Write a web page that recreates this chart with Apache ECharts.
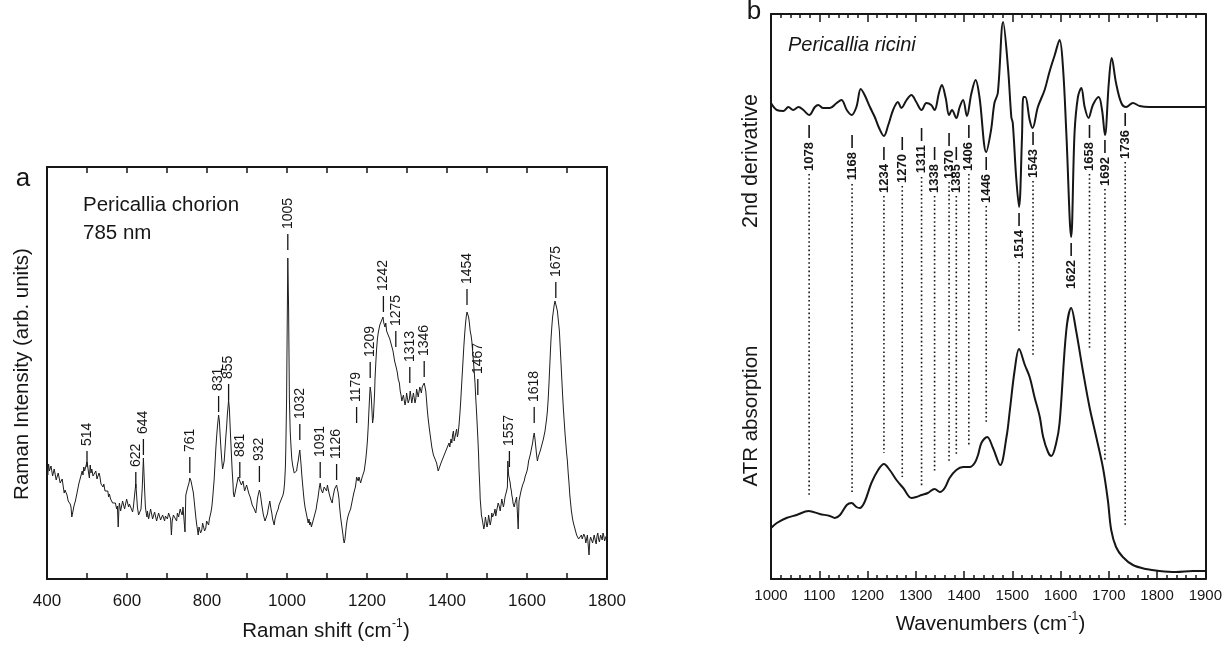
<!DOCTYPE html>
<html><head><meta charset="utf-8">
<script src="https://cdn.jsdelivr.net/npm/echarts@6/dist/echarts.min.js"></script>
<style>html,body{margin:0;padding:0;background:#fff}#c{width:1225px;height:648px}</style>
</head><body><div id="c"></div>
<script>
// ---------- Panel a: Raman spectrum (Raman shift cm-1, intensity arb. units) ----------
const ramanSpectrum = [
[400,109],[402,104],[404,115],[406,108],[408,106],[410,113],[412,112],[414,103],[416,104],[418,110],[420,108],[423,99],[425,101],[428,106],[430,104],[433,96],[435,97],[438,100],[440,94],[443,86],[445,89],[448,90],[450,84],[453,78],[455,80],[458,75],[460,72],[462,62],[464,66],[466,70],[468,74],[471,78],[474,84],[476,88],[478,92],[480,96],[482,99],[484,102],[486,100],[488,108],[490,104],[492,112],[494,108],[496,110],[498,114],[500,117],[502,112],[504,106],[506,101],[508,114],[510,106],[512,110],[515,103],[517,105],[520,102],[522,108],[525,100],[527,101],[530,106],[532,103],[535,95],[537,97],[540,92],[542,95],[545,88],[547,90],[550,86],[552,88],[554,82],[556,85],[559,80],[561,82],[564,76],[566,78],[569,74],[571,76],[574,70],[576,73],[578,52],[580,72],[581,76],[584,68],[586,70],[589,78],[591,77],[594,70],[596,74],[599,80],[601,79],[604,72],[606,75],[609,73],[611,70],[614,67],[616,72],[618,80],[620,88],[622,95],[624,84],[626,72],[629,64],[631,62],[633,66],[635,70],[638,90],[641,121],[644,90],[646,72],[648,66],[650,62],[651,68],[654,60],[656,64],[659,70],[661,68],[664,60],[666,62],[669,67],[671,66],[674,58],[676,60],[679,66],[681,65],[684,59],[686,58],[689,64],[691,66],[694,58],[696,63],[699,65],[701,60],[704,66],[706,67],[709,60],[711,44],[713,58],[716,64],[719,66],[721,62],[724,58],[726,66],[729,62],[731,60],[733,70],[735,67],[738,64],[740,72],[743,74],[745,47],[747,84],[750,86],[752,92],[755,96],[757,101],[760,98],[762,94],[764,90],[766,86],[768,78],[770,70],[772,62],[774,55],[776,50],[778,44],[780,52],[782,52],[784,46],[787,49],[789,56],[792,54],[794,48],[797,51],[799,58],[802,56],[804,54],[806,60],[808,62],[810,67],[812,72],[814,80],[816,90],[818,100],[820,115],[822,130],[824,142],[826,152],[828,160],[829,164],[831,158],[832,150],[834,136],[836,124],[838,114],[839,110],[841,112],[843,118],[845,130],[847,142],[849,152],[851,165],[853,174],[854,179],[856,170],[857,160],[859,142],[861,125],[863,108],[865,95],[866,86],[868,82],[870,86],[872,90],[874,94],[876,98],[878,102],[880,104],[882,98],[884,100],[886,94],[888,93],[890,98],[892,96],[894,88],[896,90],[899,94],[901,92],[903,88],[905,85],[908,82],[910,80],[913,74],[915,76],[918,70],[920,68],[922,66],[924,72],[926,80],[928,84],[931,89],[933,86],[935,80],[937,74],[939,72],[941,64],[943,62],[945,58],[947,56],[949,60],[951,65],[953,70],[955,72],[957,78],[958,76],[960,70],[962,66],[964,60],[966,57],[968,54],[970,60],[972,62],[974,66],[976,64],[978,70],[980,74],[982,76],[984,74],[986,80],[988,82],[990,84],[992,88],[994,96],[996,112],[997,130],[999,180],[1000,230],[1002,321],[1004,270],[1006,180],[1008,148],[1009,140],[1011,126],[1012,120],[1014,114],[1016,110],[1018,106],[1020,104],[1022,106],[1024,108],[1026,114],[1028,118],[1030,124],[1032,129],[1034,120],[1035,115],[1037,104],[1039,95],[1041,86],[1043,78],[1045,72],[1047,68],[1049,64],[1051,62],[1053,56],[1055,60],[1057,54],[1059,57],[1061,52],[1063,55],[1065,58],[1067,60],[1069,64],[1071,66],[1073,70],[1075,76],[1077,80],[1079,86],[1081,92],[1083,96],[1085,90],[1087,92],[1089,86],[1091,88],[1093,92],[1095,94],[1097,90],[1099,88],[1101,94],[1103,92],[1105,86],[1107,85],[1109,80],[1111,78],[1113,76],[1115,82],[1117,86],[1119,90],[1122,92],[1124,94],[1126,90],[1128,86],[1130,80],[1131,74],[1133,66],[1134,62],[1136,56],[1138,50],[1140,44],[1141,40],[1143,36],[1145,40],[1146,44],[1148,52],[1150,58],[1152,62],[1155,66],[1157,64],[1159,70],[1161,74],[1163,78],[1165,82],[1167,86],[1169,88],[1171,92],[1173,98],[1174,102],[1176,100],[1178,98],[1180,102],[1182,104],[1184,96],[1186,98],[1188,102],[1189,100],[1191,104],[1193,108],[1195,114],[1197,120],[1199,128],[1201,138],[1203,152],[1205,170],[1207,186],[1208,192],[1210,186],[1211,180],[1213,164],[1214,156],[1216,162],[1217,170],[1219,186],[1220,200],[1222,216],[1224,230],[1226,240],[1228,246],[1230,250],[1232,254],[1234,252],[1236,258],[1238,256],[1240,262],[1242,256],[1243,258],[1245,252],[1247,256],[1249,248],[1251,250],[1253,244],[1255,246],[1257,240],[1259,238],[1261,234],[1263,232],[1265,228],[1267,226],[1269,218],[1272,220],[1274,210],[1276,206],[1278,200],[1281,196],[1283,188],[1285,184],[1287,178],[1289,176],[1291,184],[1293,182],[1295,174],[1297,178],[1299,186],[1301,184],[1303,176],[1306,180],[1308,188],[1310,186],[1312,176],[1314,178],[1316,186],[1318,184],[1320,176],[1322,180],[1324,190],[1326,188],[1328,182],[1330,184],[1332,192],[1334,190],[1336,186],[1338,192],[1340,194],[1343,196],[1345,194],[1347,188],[1349,178],[1351,168],[1353,160],[1356,150],[1358,144],[1360,138],[1362,132],[1364,128],[1366,124],[1368,122],[1370,120],[1372,118],[1374,116],[1376,114],[1378,108],[1381,110],[1383,106],[1385,116],[1387,114],[1389,120],[1391,118],[1393,124],[1395,122],[1397,126],[1399,130],[1401,132],[1403,130],[1405,136],[1407,132],[1410,140],[1412,136],[1414,144],[1416,148],[1418,138],[1420,140],[1422,146],[1424,150],[1426,142],[1428,146],[1430,154],[1432,164],[1434,176],[1436,190],[1438,204],[1440,218],[1442,232],[1444,244],[1446,254],[1448,262],[1450,267],[1452,266],[1454,262],[1456,256],[1458,248],[1460,244],[1462,238],[1464,228],[1466,218],[1468,208],[1470,196],[1472,180],[1474,166],[1476,150],[1477,142],[1479,124],[1480,110],[1482,92],[1483,80],[1485,70],[1486,64],[1488,60],[1490,58],[1492,50],[1494,54],[1496,62],[1498,60],[1500,52],[1502,56],[1504,64],[1506,62],[1508,54],[1510,58],[1512,66],[1514,62],[1516,60],[1518,66],[1520,70],[1522,63],[1524,68],[1526,70],[1528,76],[1531,72],[1533,68],[1535,74],[1537,80],[1539,78],[1541,72],[1543,76],[1545,82],[1547,84],[1549,88],[1551,92],[1552,118],[1554,104],[1556,100],[1558,96],[1559,92],[1561,88],[1562,84],[1564,80],[1565,76],[1567,74],[1568,72],[1570,76],[1572,78],[1574,82],[1576,84],[1578,50],[1580,78],[1581,80],[1583,84],[1585,88],[1587,90],[1589,94],[1591,96],[1593,98],[1595,102],[1597,104],[1600,108],[1602,112],[1604,118],[1606,120],[1608,124],[1610,128],[1612,132],[1614,136],[1616,142],[1618,146],[1620,140],[1622,132],[1624,124],[1626,118],[1628,122],[1630,124],[1633,128],[1635,130],[1637,134],[1639,136],[1641,140],[1643,142],[1645,148],[1647,154],[1649,160],[1651,168],[1653,180],[1655,196],[1657,214],[1660,240],[1662,252],[1664,262],[1666,268],[1668,274],[1670,278],[1672,280],[1674,276],[1676,268],[1678,260],[1681,248],[1683,232],[1685,216],[1687,200],[1689,184],[1691,170],[1693,158],[1695,146],[1697,136],[1699,126],[1701,118],[1703,106],[1705,96],[1707,84],[1709,76],[1711,68],[1714,60],[1716,56],[1718,54],[1720,50],[1722,48],[1724,44],[1727,45],[1729,40],[1731,42],[1733,38],[1736,44],[1738,40],[1740,38],[1742,45],[1745,42],[1747,36],[1749,36],[1751,44],[1753,42],[1755,24],[1757,38],[1759,42],[1762,44],[1764,36],[1766,40],[1768,44],[1771,38],[1773,35],[1775,43],[1777,46],[1779,40],[1781,37],[1784,44],[1786,42],[1788,39],[1790,46],[1792,43],[1794,38],[1797,42],[1800,44]
];
const ramanPeakLabels = ['514','622','644','761','831','855','881','932','1005','1032','1091','1126','1179','1209','1242','1275','1313','1346','1454','1467','1557','1618','1675'];
const ramanPeakPos    = [500,622,641,757,829,854,882,931,1002,1032,1083,1124,1174,1208,1241,1272,1307,1343,1450,1477,1556,1618,1672];
const ramanPeakBase   = [112,91,124,106,167,179,101,97,329,139,101,99,156,201,267,232,196,202,274,184,112,156,281];

// ---------- Panel b: FTIR (wavenumbers cm-1) ----------
const derivSpectrum = [
[1000,476],[1012,469],[1026,468],[1036,472],[1046,469],[1057,472],[1067,469],[1079,464],[1091,472],[1098,474],[1108,471],[1122,471],[1136,476],[1146,479],[1157,469],[1167,464],[1177,472],[1186,490],[1194,484],[1205,472],[1215,462],[1224,451],[1234,443],[1243,454],[1253,469],[1263,477],[1270,471],[1281,479],[1291,484],[1301,477],[1312,469],[1322,476],[1332,474],[1339,469],[1348,486],[1354,494],[1362,481],[1369,464],[1375,469],[1384,461],[1391,472],[1398,479],[1406,463],[1415,485],[1424,499],[1432,482],[1446,427],[1456,449],[1463,476],[1470,486],[1481,557],[1491,512],[1498,462],[1501,456],[1508,402],[1514,372],[1520,440],[1523,482],[1527,482],[1536,459],[1542,451],[1553,472],[1567,489],[1577,507],[1588,524],[1598,539],[1605,512],[1612,446],[1622,342],[1629,446],[1636,482],[1643,491],[1650,472],[1658,461],[1667,474],[1679,482],[1686,469],[1692,444],[1700,496],[1706,521],[1715,496],[1726,476],[1736,472],[1750,476],[1764,473],[1784,472],[1812,472],[1839,472],[1874,472],[1900,472]
];
const atrSpectrum = [
[1000,51],[1012,56],[1032,61],[1053,64],[1078,68],[1101,65],[1122,63],[1132,61],[1143,64],[1157,74],[1167,76],[1177,72],[1184,71],[1194,77],[1208,96],[1222,109],[1234,115],[1246,109],[1260,99],[1274,91],[1291,81],[1301,82],[1312,84],[1325,86],[1339,90],[1350,87],[1360,91],[1370,101],[1384,109],[1398,112],[1412,112],[1422,116],[1429,124],[1436,136],[1448,142],[1460,131],[1475,114],[1488,142],[1495,169],[1505,209],[1514,230],[1526,214],[1536,202],[1546,182],[1557,162],[1564,142],[1574,127],[1581,123],[1591,136],[1598,156],[1612,249],[1622,271],[1632,249],[1646,209],[1660,172],[1674,142],[1688,111],[1698,79],[1705,49],[1715,32],[1729,22],[1750,14],[1777,10],[1805,8],[1839,7],[1874,8],[1900,8]
];
const ftirPeakLabels = ['1078','1168','1234','1270','1311','1338','1370','1385','1406','1446','1514','1543','1622','1658','1692','1736'];
const ftirPeakPos    = [1079,1168,1234,1272,1312,1339,1369,1384,1410,1446,1514,1543,1622,1660,1692,1734];
const ftirDashTop    = [454,444,432,442,451,432,446,432,454,422,366,447,336,454,439,466];
const ftirDotEnd     = [84,87,126,102,92,106,117,124,132,156,246,222,null,229,117,54];

const FONT = '"Liberation Sans", Arial, Helvetica, sans-serif';
const INK = '#161616';
const TITLE = 20.5;

function bottomTopX(grid, min, max, labelFormatter, fontSize, margin, tickLen, minor) {
  const base = {
    gridIndex: grid, type: 'value', min: min, max: max, interval: 100,
    splitLine: {show: false},
    axisLine: {onZero: false, lineStyle: {color: INK, width: 2}},
    axisTick: {inside: true, length: tickLen, lineStyle: {color: INK, width: 1.5}},
    minorTick: minor ? {show: true, splitNumber: 5, length: 4, lineStyle: {color: INK, width: 1.5}} : {show: false}
  };
  const bottom = Object.assign({}, base, {position: 'bottom',
    axisLabel: {show: true, formatter: labelFormatter, fontSize: fontSize, fontFamily: FONT, color: INK, margin: margin}});
  const top = Object.assign({}, base, {position: 'top', axisLabel: {show: false}});
  return [bottom, top];
}
function boxY(grid, max, pos) {
  return {gridIndex: grid, type: 'value', min: 0, max: max, position: pos,
    axisLine: {show: true, onZero: false, lineStyle: {color: INK, width: 2}},
    axisTick: {show: false}, axisLabel: {show: false}, splitLine: {show: false}};
}

const xA = bottomTopX(0, 400, 1800, v => (v % 200 === 0 ? String(v) : ''), 17, 14, 6, false);
const xB = bottomTopX(1, 1000, 1900, v => String(v), 15, 9, 8, true);

function renderRamanMark(params, api) {
  const p = api.coord([api.value(0), api.value(1)]);
  return {type: 'group', children: [
    {type: 'line', shape: {x1: p[0], y1: p[1], x2: p[0], y2: p[1] - 16}, style: {stroke: INK, lineWidth: 1.3}},
    {type: 'text', x: p[0], y: p[1] - 21, rotation: Math.PI / 2,
      style: {text: ramanPeakLabels[params.dataIndex], fontSize: 14, fontFamily: FONT, fill: INK, align: 'left', verticalAlign: 'middle'}}
  ]};
}
function renderFtirMark(params, api) {
  const i = params.dataIndex;
  const p = api.coord([api.value(0), api.value(1)]);
  const kids = [
    {type: 'line', shape: {x1: p[0], y1: p[1], x2: p[0], y2: p[1] + 13}, style: {stroke: INK, lineWidth: 1.6}},
    {type: 'text', x: p[0], y: p[1] + 17, rotation: Math.PI / 2,
      style: {text: ftirPeakLabels[i], fontSize: 13, fontWeight: 'bold', fontFamily: FONT, fill: INK, align: 'right', verticalAlign: 'middle'}}
  ];
  if (ftirDotEnd[i] !== null) {
    const q = api.coord([api.value(0), ftirDotEnd[i]]);
    if (q[1] > p[1] + 49) {
      kids.push({type: 'line', shape: {x1: p[0], y1: p[1] + 49, x2: p[0], y2: q[1]},
        style: {stroke: INK, lineWidth: 1.6, lineDash: [1.6, 2.6]}});
    }
  }
  return {type: 'group', children: kids};
}

function axisTitle(x, y, main, sup) {
  // main text, superscript and closing bracket as real text pieces
  return {type: 'group', x: x, y: y, children: [
    {type: 'text', x: 0, y: 0, style: {text: main, fontSize: TITLE, fontFamily: FONT, fill: INK, align: 'right', verticalAlign: 'middle'}},
    {type: 'text', x: 0.5, y: -7, style: {text: sup, fontSize: 12, fontFamily: FONT, fill: INK, align: 'left', verticalAlign: 'middle'}},
    {type: 'text', x: 11.5, y: 0, style: {text: ')', fontSize: TITLE, fontFamily: FONT, fill: INK, align: 'left', verticalAlign: 'middle'}}
  ]};
}

const chart = echarts.init(document.getElementById('c'), null, {renderer: 'canvas'});
chart.setOption({
  animation: false,
  backgroundColor: '#fff',
  grid: [
    {left: 47, top: 167, width: 560, height: 412},
    {left: 771, top: 14, width: 435, height: 565}
  ],
  xAxis: [xA[0], xA[1], xB[0], xB[1]],
  yAxis: [boxY(0, 412, 'left'), boxY(0, 412, 'right'), boxY(1, 565, 'left'), boxY(1, 565, 'right')],
  series: [
    {type: 'line', xAxisIndex: 0, yAxisIndex: 0, data: ramanSpectrum, showSymbol: false,
      lineStyle: {color: '#1e1e1e', width: 1}, z: 3},
    {type: 'custom', xAxisIndex: 0, yAxisIndex: 0, clip: false, renderItem: renderRamanMark,
      data: ramanPeakPos.map((x, i) => [x, ramanPeakBase[i]]), z: 4},
    {type: 'line', xAxisIndex: 2, yAxisIndex: 2, data: derivSpectrum, showSymbol: false, smooth: 0.35,
      lineStyle: {color: INK, width: 2}, z: 3},
    {type: 'line', xAxisIndex: 2, yAxisIndex: 2, data: atrSpectrum, showSymbol: false, smooth: 0.35,
      lineStyle: {color: INK, width: 2}, z: 3},
    {type: 'custom', xAxisIndex: 2, yAxisIndex: 2, clip: false, renderItem: renderFtirMark,
      data: ftirPeakPos.map((x, i) => [x, ftirDashTop[i]]), z: 4}
  ],
  graphic: [
    {type: 'text', x: 23, y: 179, style: {text: 'a', fontSize: 26, fontFamily: FONT, fill: INK, align: 'center', verticalAlign: 'middle'}},
    {type: 'text', x: 754, y: 12, style: {text: 'b', fontSize: 26, fontFamily: FONT, fill: INK, align: 'center', verticalAlign: 'middle'}},
    {type: 'text', x: 83, y: 205, style: {text: 'Pericallia chorion', fontSize: 20.5, fontFamily: FONT, fill: INK, align: 'left', verticalAlign: 'middle'}},
    {type: 'text', x: 83, y: 233, style: {text: '785 nm', fontSize: 20.5, fontFamily: FONT, fill: INK, align: 'left', verticalAlign: 'middle'}},
    {type: 'text', x: 788, y: 45, style: {text: 'Pericallia ricini', fontSize: 20, fontStyle: 'italic', fontFamily: FONT, fill: INK, align: 'left', verticalAlign: 'middle'}},
    {type: 'text', x: 22, y: 374, rotation: Math.PI / 2, style: {text: 'Raman Intensity (arb. units)', fontSize: TITLE, fontFamily: FONT, fill: INK, align: 'center', verticalAlign: 'middle'}},
    {type: 'text', x: 751, y: 161, rotation: Math.PI / 2, style: {text: '2nd derivative', fontSize: 21.5, fontFamily: FONT, fill: INK, align: 'center', verticalAlign: 'middle'}},
    {type: 'text', x: 751, y: 416, rotation: Math.PI / 2, style: {text: 'ATR absorption', fontSize: TITLE, fontFamily: FONT, fill: INK, align: 'center', verticalAlign: 'middle'}},
    axisTitle(391.5, 631, 'Raman shift (cm', '-1'),
    axisTitle(1067, 624, 'Wavenumbers (cm', '-1')
  ]
});
</script>
</body></html>
